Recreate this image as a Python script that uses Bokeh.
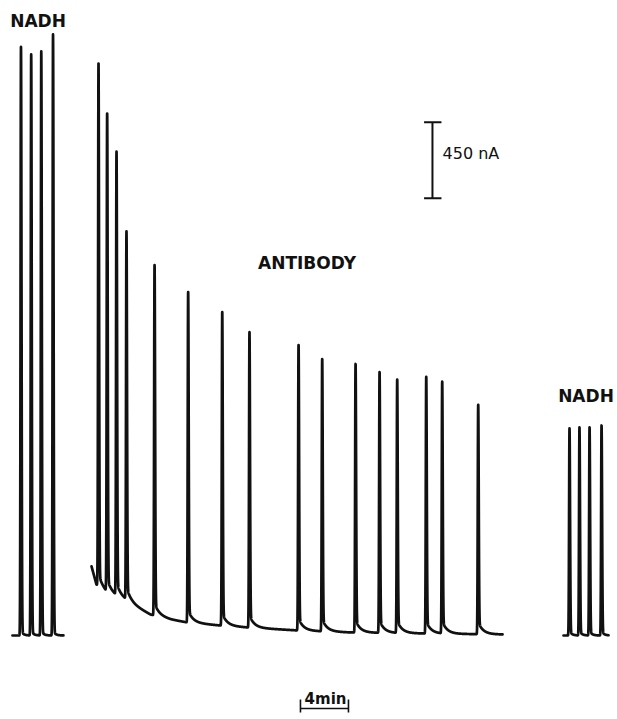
import numpy as np
from bokeh.plotting import figure
from bokeh.models import Range1d, Label
from bokeh.embed import file_html
from bokeh.resources import INLINE

# ---- data read from the recording (time in min, current in nA) ----
nadh1_time = [1.04, 1.89, 2.73, 3.71]
nadh1_peak = [3487, 3440, 3458, 3559]
nadh1_base_time = [0.33, 4.58]
nadh1_base = [0, 0]

ab_time = [7.50, 8.22, 9.00, 9.83, 12.17, 14.97, 17.81, 20.08,
           24.17, 26.14, 28.92, 30.92, 32.39, 34.81, 36.14, 39.14]
ab_peak = [3387, 3079, 2854, 2380, 2191, 2031, 1912, 1794,
           1717, 1634, 1605, 1557, 1510, 1528, 1498, 1362]
ab_base_time = [6.92, 7.33, 8.08, 8.92, 9.75, 10.58, 11.83, 13.5,
                14.92, 17.67, 20.0, 24.08, 28.5, 34.33, 41.17]
ab_base = [409, 302, 255, 231, 207, 172, 124, 95, 77, 59, 47, 30, 18, 12, 6]

nadh2_time = [46.75, 47.58, 48.42, 49.42]
nadh2_peak = [1226, 1232, 1232, 1243]
nadh2_base_time = [46.25, 50.0]
nadh2_base = [0, 0]

scale_current = 450   # nA
scale_time = 4        # min


def trace(peak_t, peak_top, base_t, base_v, tail_amp, tail_tau):
    t = np.arange(base_t[0], base_t[-1], 0.004)
    base = np.interp(t, base_t, base_v)
    y = base.copy()
    for tp, top in zip(peak_t, peak_top):
        amp = top - np.interp(tp, base_t, base_v)
        dt = t - tp
        spike = np.where(dt < 0, np.exp(-0.5 * (dt / 0.035) ** 2),
                         np.exp(-0.5 * (dt / 0.045) ** 2))
        tail = np.where(dt > 0, tail_amp * (1 - np.exp(-dt / 0.03)) * np.exp(-dt / tail_tau), 0.0)
        y += amp * spike + tail
    return t, y


W, H = 617, 719
p = figure(width=W, height=H, output_backend="svg", toolbar_location=None,
           x_range=Range1d(-8 / 12.0, 609 / 12.0), y_range=Range1d(-497.4, 3759.9),
           min_border=0, outline_line_color=None)
p.axis.visible = False
p.grid.visible = False
p.background_fill_color = "white"
p.border_fill_color = "white"

ink = "#111111"
for args in [(nadh1_time, nadh1_peak, nadh1_base_time, nadh1_base, 25, 0.2),
             (ab_time, ab_peak, ab_base_time, ab_base, 72, 0.4),
             (nadh2_time, nadh2_peak, nadh2_base_time, nadh2_base, 25, 0.2)]:
    t, y = trace(*args)
    p.line(t, y, line_color=ink, line_width=2.7, line_join="round", line_cap="round")

# 450 nA scale bar
xb = 35.33
yb0 = 2589
p.segment(x0=[xb], y0=[yb0], x1=[xb], y1=[yb0 + scale_current], line_color=ink, line_width=2)
p.segment(x0=[xb - 0.7, xb - 0.7], y0=[yb0, yb0 + scale_current],
          x1=[xb + 0.75, xb + 0.75], y1=[yb0, yb0 + scale_current], line_color=ink, line_width=2)

# 4 min scale bar
tx0 = 24.33
p.segment(x0=[tx0], y0=[-432], x1=[tx0 + scale_time], y1=[-432], line_color=ink, line_width=1.6)
p.segment(x0=[tx0, tx0 + scale_time], y0=[-379, -379], x1=[tx0, tx0 + scale_time], y1=[-456, -456],
          line_color=ink, line_width=1.6)

font = "DejaVu Sans"
p.add_layout(Label(x=2.46, y=3641, text="NADH", text_font=font, text_font_style="bold",
                   text_font_size="17px", text_align="center", text_baseline="alphabetic",
                   text_color=ink))
p.add_layout(Label(x=48.125, y=1421, text="NADH", text_font=font, text_font_style="bold",
                   text_font_size="17px", text_align="center", text_baseline="alphabetic",
                   text_color=ink))
p.add_layout(Label(x=24.875, y=2208, text="ANTIBODY", text_font=font, text_font_style="bold",
                   text_font_size="17px", text_align="center", text_baseline="alphabetic",
                   text_color=ink))
p.add_layout(Label(x=36.17, y=2855, text="450 nA", text_font=font,
                   text_font_size="16px", text_align="left", text_baseline="alphabetic",
                   text_color=ink))
p.add_layout(Label(x=26.42, y=-377, text="4min", text_font=font, text_font_style="bold",
                   text_font_size="15px", text_align="center", text_baseline="alphabetic",
                   text_color=ink))

open("out.html", "w").write(file_html(p, INLINE))
